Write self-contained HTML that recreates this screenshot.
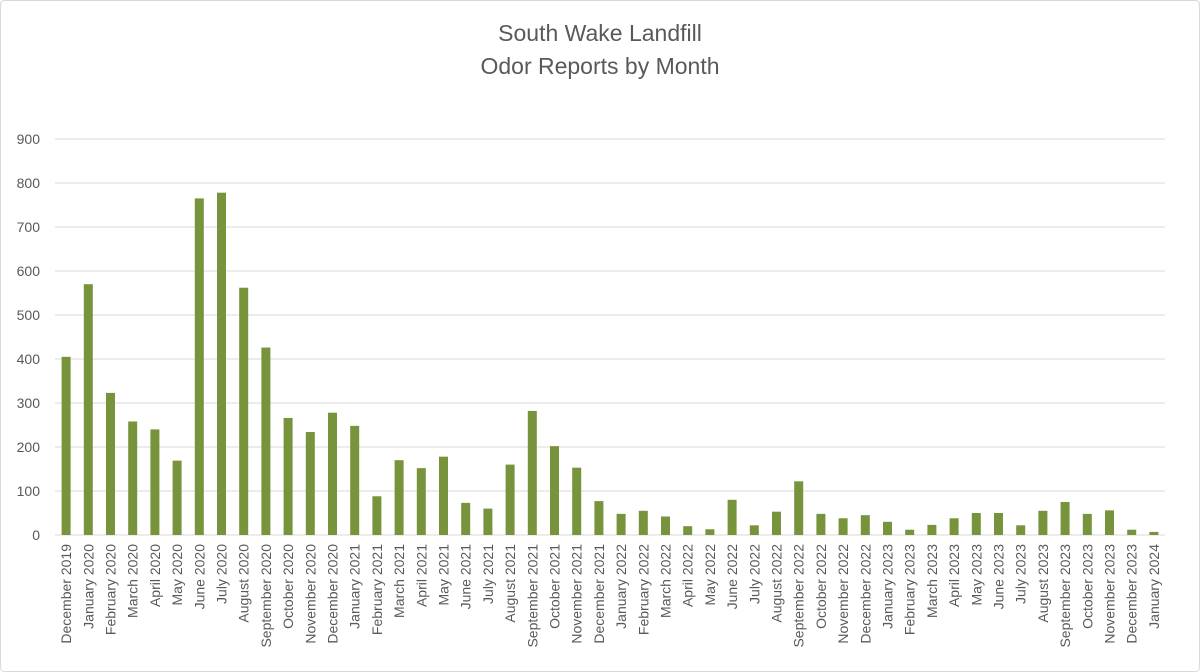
<!DOCTYPE html>
<html><head><meta charset="utf-8"><style>
html,body{margin:0;padding:0;background:#fff;}
svg{display:block;font-family:"Liberation Sans",sans-serif;}
</style></head><body>
<svg id="chart" width="1200" height="672">
<rect x="0.5" y="0.5" width="1199" height="671" rx="4" fill="#fff" stroke="#d9d9d9"/>
<text x="600" y="41" text-anchor="middle" font-size="23" fill="#595959">South Wake Landfill</text>
<text x="600" y="74" text-anchor="middle" font-size="23" fill="#595959">Odor Reports by Month</text>
<g id="grid"></g><g id="bars"></g><g id="xlabels"></g><g id="ylabels"></g>
</svg>
<script>
const categories=["December 2019","January 2020","February 2020","March 2020","April 2020","May 2020","June 2020","July 2020","August 2020","September 2020","October 2020","November 2020","December 2020","January 2021","February 2021","March 2021","April 2021","May 2021","June 2021","July 2021","August 2021","September 2021","October 2021","November 2021","December 2021","January 2022","February 2022","March 2022","April 2022","May 2022","June 2022","July 2022","August 2022","September 2022","October 2022","November 2022","December 2022","January 2023","February 2023","March 2023","April 2023","May 2023","June 2023","July 2023","August 2023","September 2023","October 2023","November 2023","December 2023","January 2024"];
const reports=[405,570,323,258,240,169,765,778,562,426,266,234,278,248,88,170,152,178,73,60,160,282,202,153,77,48,55,42,20,13,80,22,53,122,48,38,45,30,12,23,38,50,50,22,55,75,48,56,12,7];
const yTicks=[0,100,200,300,400,500,600,700,800,900];
const NS="http://www.w3.org/2000/svg";
const x0=55,x1=1165,yBase=535,yTop=139,yMax=900;
const bw=(x1-x0)/categories.length;
function xScale(i){return x0+bw*(i+0.5);}
function yScale(v){return yBase-(v/yMax)*(yBase-yTop);}
function mk(tag,attrs,parent){const e=document.createElementNS(NS,tag);for(const k in attrs)e.setAttribute(k,attrs[k]);document.getElementById(parent).appendChild(e);return e;}
yTicks.forEach(t=>{
  const y=yScale(t);
  const l=mk('line',{x1:x0,x2:x1,y1:y,y2:y,stroke:'#d9d9d9','stroke-width':1},'grid');
  
  
  const tx=mk('text',{x:40,y:y+5,'text-anchor':'end','font-size':14,fill:'#595959'},'ylabels');
  tx.textContent=t;
  
  
});
reports.forEach((v,i)=>{
  const cx=xScale(i);
  const r=mk('rect',{x:cx-4.5,y:yScale(v),width:9,height:yBase-yScale(v),fill:'#77933c'},'bars');
  
  
  const tx=mk('text',{x:0,y:0,'text-anchor':'end','font-size':14,fill:'#595959',transform:`translate(${cx+5},${544}) rotate(-90)`},'xlabels');
  tx.textContent=categories[i];
  
  
});
</script>
</body></html>
